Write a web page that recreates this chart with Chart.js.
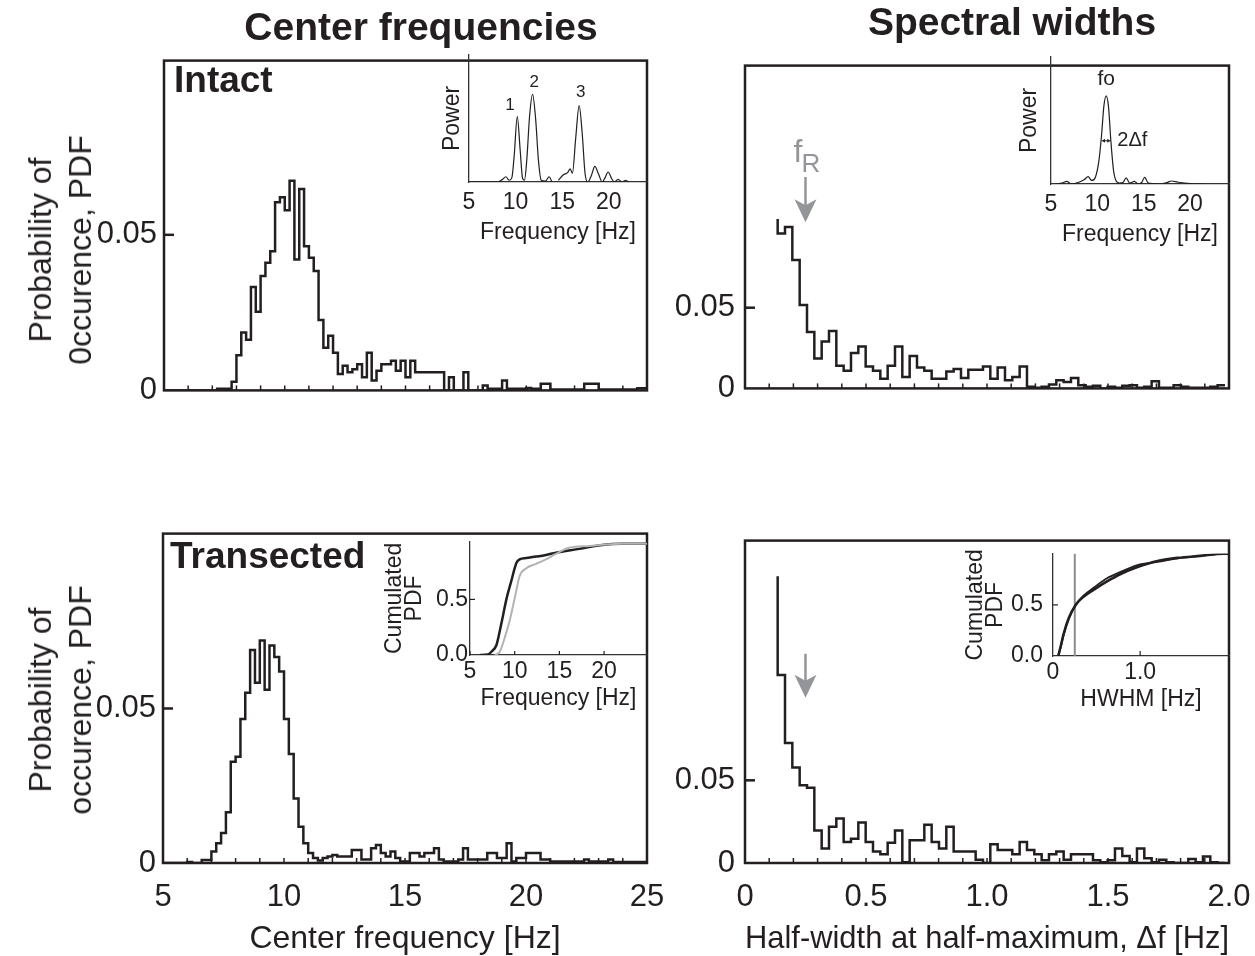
<!DOCTYPE html>
<html>
<head>
<meta charset="utf-8">
<script src="https://cdn.jsdelivr.net/npm/chart.js@4.4.1/dist/chart.umd.min.js"></script>
<style>
  body { margin: 0; background: #fff; }
  #page { position: relative; width: 1255px; height: 956px; overflow: hidden;
          font-family: 'Liberation Sans', Arial, sans-serif; color: #231f20; }
  canvas { position: absolute; }
  .lbl { position: absolute; white-space: nowrap; }
  .title { font-weight: bold; font-size: 39px; line-height: 44px; transform: translateX(-50%); }
  .panel { font-weight: bold; font-size: 37px; line-height: 40px; }
  .ytitle { font-size: 32px; line-height: 40px; text-align: center;
            transform: translate(-50%, -50%) rotate(-90deg); }
</style>
</head>
<body>
<div id="page">
  <canvas id="c1"></canvas>
  <canvas id="c2"></canvas>
  <canvas id="c3"></canvas>
  <canvas id="c4"></canvas>
  <canvas id="i1"></canvas>
  <canvas id="i2"></canvas>
  <canvas id="i3"></canvas>
  <canvas id="i4"></canvas>

  <div class="lbl title" style="left:421px;top:5px">Center frequencies</div>
  <div class="lbl title" style="left:1012px;top:0px">Spectral widths</div>
  <div class="lbl panel" style="left:174px;top:60px">Intact</div>
  <div class="lbl panel" style="left:170px;top:536px">Transected</div>
  <div class="lbl ytitle" style="left:60px;top:250px">Probability of<br>0ccurence, PDF</div>
  <div class="lbl ytitle" style="left:60px;top:700px">Probability of<br>occurence, PDF</div>
</div>

<script>
const BLACK = '#231f20';
const GREY = '#939598';
const FONT = "'Liberation Sans', Arial, sans-serif";

// ---- histograms of center frequencies (0.2 Hz bins from 5 Hz) ----
const centerBinStart = 5;
const centerBinWidth = 0.2;
const intactCenterPdf = [
  0, 0, 0, 0, 0, 0, 0, 0, 0, 0,
  0, 0.0005, 0.0005, 0.0005, 0.0028, 0.0113, 0.0186, 0.0163, 0.0332, 0.0253,
  0.0368, 0.0410, 0.0447, 0.0605, 0.0621, 0.0579, 0.0674, 0.0421, 0.0647, 0.0463,
  0.0426, 0.0384, 0.0226, 0.0137, 0.0176, 0.0121, 0.0053, 0.0079, 0.0058, 0.0068,
  0.0084, 0.0042, 0.0121, 0.0032, 0.0063, 0.0084, 0.0084, 0.0095, 0.0063, 0.0095,
  0.0042, 0.0095, 0.0058, 0.0058, 0.0058, 0.0058, 0.0058, 0.0058, 0, 0.0042,
  0, 0, 0.0058, 0, 0, 0, 0.0016, 0.0005, 0.0005, 0.0005,
  0.0032, 0.0005, 0.0005, 0.0005, 0.0005, 0.0008, 0.0005, 0.0005, 0.0021, 0.0021,
  0.0003, 0.0003, 0.0003, 0.0003, 0.0003, 0.0003, 0.0003, 0.0021, 0.0021, 0.0021,
  0.0003, 0.0003, 0.0003, 0.0003, 0.0003, 0.0003, 0.0003, 0.0003, 0.0007, 0.0007
];
const transectedCenterPdf = [
  0, 0, 0, 0, 0, 0.0003, 0, 0, 0.001, 0.001,
  0.0037, 0.0064, 0.0097, 0.0164, 0.0328, 0.0344, 0.0466, 0.0551, 0.0689, 0.0583,
  0.0720, 0.0561, 0.0704, 0.0667, 0.0620, 0.0466, 0.0353, 0.0209, 0.0117, 0.0064,
  0.0032, 0.0016, 0.0008, 0.0016, 0.0021, 0.0026, 0.0021, 0.0021, 0.0021, 0.0042,
  0.0042, 0.0011, 0.0011, 0.0048, 0.0058, 0.0032, 0.0021, 0.0037, 0.0016, 0.0005,
  0.0005, 0.0032, 0.0032, 0.0021, 0.0032, 0.0032, 0.0048, 0.0011, 0.0005, 0.0005,
  0.0005, 0.0011, 0.0048, 0.0011, 0.0011, 0.0011, 0.0011, 0.0032, 0.0032, 0.0016,
  0.0016, 0.0064, 0.0005, 0.0016, 0.0016, 0.0032, 0.0032, 0.0032, 0.0011, 0.0011,
  0.0005, 0.0005, 0.0005, 0.0005, 0.0005, 0.0005, 0.0005, 0.0011, 0.0005, 0.0005,
  0.0005, 0.0005, 0.0011, 0.0003, 0.0003, 0.0003, 0.0003, 0.0003, 0.0003, 0.0003
];

// ---- histograms of spectral widths (HWHM) ----
const widthBinStart = 0.135;
const widthBinWidth = 0.0303;
const intactWidthFirst = 0.105;
const intactWidthPdf = [
  0.096, 0.100, 0.0796, 0.0516, 0.035, 0.0186, 0.029, 0.0356, 0.014, 0.011,
  0.022, 0.026, 0.0136, 0.011, 0.006, 0.014, 0.026, 0.007, 0.020, 0.013,
  0.011, 0.006, 0.006, 0.0104, 0.012, 0.0064, 0.0116, 0.0116, 0.0136, 0.006,
  0.013, 0.005, 0.007, 0.0136, 0.001, 0.0004, 0.001, 0.0024, 0.005, 0.004,
  0.0064, 0.002, 0.001, 0.0016, 0, 0.001, 0.0004, 0.0016, 0.002, 0.0004,
  0.001, 0.0044, 0.0004, 0.0004, 0.002, 0.001, 0.0004, 0.0004, 0.0004, 0.001,
  0.002
];
const transectedWidthFirst = 0.1735;
const transectedWidthPdf = [
  0.1137, 0.0726, 0.0578, 0.0471, 0.0455, 0.0196, 0.0088, 0.022, 0.0269, 0.0127,
  0.0147, 0.0245, 0.0127, 0.0069, 0.0053, 0.0122, 0.0196, 0.0004, 0.0137, 0.0137,
  0.0231, 0.0127, 0.0088, 0.022, 0.0069, 0.0069, 0.0069, 0.002, 0, 0.0114,
  0.0078, 0.0078, 0.0053, 0.0127, 0.0078, 0.0053, 0.0016, 0.0053, 0.0069, 0.002,
  0.0053, 0.0053, 0.0053, 0.0016, 0.0004, 0.0016, 0.0088, 0.0043, 0.0004, 0.0088,
  0.0029, 0.0004, 0.002, 0.0004, 0, 0, 0.0024, 0.0004, 0.0039, 0.0004,
  0
];
const fR = 0.25;

// ---- tick values ----
const freqTicks = [5, 10, 15, 20, 25];
const widthTicks = [0, 0.5, 1.0, 1.5, 2.0];
const widthTickLabels = ['0', '0.5', '1.0', '1.5', '2.0'];
const pdfTicks = [0, 0.05];
const pdfTickLabels = ['0', '0.05'];
const insetFreqTicks = [5, 10, 15, 20];
const cdfTicks = [0, 0.5];
const cdfTickLabels = ['0.0', '0.5'];
const hwhmTicks = [0, 1.0];
const hwhmTickLabels = ['0', '1.0'];

// ---- inset: example spectrum with three peaks ----
const spectrumFreq = [5.0, 6.5, 8.0, 8.6, 8.96, 9.3, 9.6, 9.85, 10.18, 10.5, 10.75, 10.95,
  11.2, 11.5, 11.82, 12.15, 12.45, 12.75, 13.2, 13.6, 13.9, 14.3, 14.6, 15.1, 15.6, 15.85,
  16.1, 16.45, 16.82, 17.15, 17.45, 17.75, 18.15, 18.5, 18.9, 19.3, 19.6, 19.93, 20.3,
  20.6, 21.0, 21.4, 21.8, 22.1];
const spectrumPower = [0, 0.005, 0, 0.03, 0.06, 0.02, 0.05, 0.3, 0.746, 0.35, 0.04, 0.02,
  0.25, 0.75, 1.0, 0.72, 0.25, 0.02, 0.01, 0.06, 0, null, 0.02, 0.08, 0.11, 0.15,
  0.1, 0.5, 0.871, 0.55, 0.1, 0, 0.08, 0.178, 0.09, 0, 0.05, 0.114, 0.04,
  0, 0.03, 0, 0.02, 0];
const peakNames = ['1', '2', '3'];
const peakNameFreq = [9.4, 12.0, 17.0];
const peakNamePower = [0.88, 1.14, 1.02];

// ---- inset: single peak spectrum ----
const singleFreq = [5.5, 6.2, 6.7, 7.2, 8.0, 8.6, 9.0, 9.4, 9.8, 10.15, 10.45, 10.7, 10.95,
  11.2, 11.45, 11.75, 12.05, 12.4, 12.8, 13.1, 13.5, 14.0, 14.4, 14.8, 15.1, 15.5, 16.0,
  16.8, 17.5, 18.0, 18.7, 19.5, 20.5, 21.4];
const singlePower = [0, 0.01, 0.03, 0, 0.02, 0.05, 0.083, 0.04, 0.08, 0.25, 0.55, 0.88, 1.0,
  0.88, 0.5, 0.15, 0.03, 0.01, 0.02, 0.07, 0.01, 0.03, 0, 0.02, 0.076, 0.01, 0.005,
  0, 0.015, 0.034, 0.02, 0.01, 0, 0];

// ---- inset: cumulated PDF of center frequency ----
const cdfFreqTransected = [6.1, 7.0, 7.4, 7.96, 8.5, 9.07, 9.6, 10.2, 10.55, 11.3, 12.4, 13.5,
  14.6, 15.7, 16.85, 18.3, 19.8, 22, 24.8];
const cdfTransected = [0, 0.005, 0.03, 0.09, 0.28, 0.5, 0.66, 0.83, 0.86, 0.872, 0.885, 0.9,
  0.92, 0.935, 0.95, 0.97, 0.99, 1.0, 1.0];
const cdfFreqIntact = [7.8, 8.33, 8.9, 9.44, 10.0, 10.55, 11.3, 12.4, 13.5, 14.6, 16.1, 18.3,
  20.6, 22, 24.8];
const cdfIntact = [0, 0.03, 0.16, 0.31, 0.51, 0.71, 0.78, 0.82, 0.86, 0.91, 0.965, 0.98,
  0.995, 1.0, 1.0];

// ---- inset: cumulated PDF of HWHM ----
const cdfHwhm = [0.06, 0.09, 0.12, 0.18, 0.26, 0.35, 0.47, 0.62, 0.77, 0.97, 1.2, 1.43, 1.69, 1.96, 2.02];
const cdfHwhmIntact = [0, 0.1, 0.21, 0.37, 0.5, 0.58, 0.65, 0.73, 0.80, 0.87, 0.93, 0.96, 0.98, 1.0, 1.0];
const cdfHwhmTransected = [0, 0.09, 0.2, 0.36, 0.5, 0.59, 0.67, 0.76, 0.82, 0.89, 0.92, 0.955, 0.98, 1.0, 1.0];

Chart.defaults.font.family = FONT;
Chart.defaults.color = BLACK;
Chart.defaults.animation = false;
Chart.defaults.events = [];
Chart.defaults.plugins.legend.display = false;
Chart.defaults.plugins.tooltip.enabled = false;

// histogram outline: vertical edge at the start, then one step per bin
function histPoints(start, width, first, values) {
  const pts = [{ x: start, y: first }];
  values.forEach((v, i) => pts.push({ x: start + (i + 1) * width, y: v }));
  return pts;
}
function xyPoints(xs, ys) {
  return xs.map((x, i) => ({ x: x, y: ys[i] }));
}

const decorConfig = {};
const decor = {
  id: 'decor',
  beforeDatasetsDraw(chart) {
    const o = decorConfig[chart.canvas.id];
    if (!o || !o.vline) return;
    const { ctx, chartArea: a } = chart;
    const px = chart.scales.x.getPixelForValue(o.vline.x);
    ctx.save();
    ctx.strokeStyle = o.vline.color;
    ctx.lineWidth = o.vline.width;
    ctx.beginPath(); ctx.moveTo(px, a.top); ctx.lineTo(px, a.bottom); ctx.stroke();
    ctx.restore();
  },
  afterDatasetsDraw(chart) {
    const o = decorConfig[chart.canvas.id];
    if (!o) return;
    const { ctx, chartArea: a } = chart;
    const xs = chart.scales.x, ys = chart.scales.y;
    ctx.save();
    ctx.strokeStyle = BLACK;
    ctx.fillStyle = BLACK;
    if (o.xTicks) {
      const t = o.xTicks;
      ctx.lineWidth = t.width;
      const n = Math.round((t.to - t.from) / t.step);
      for (let i = 0; i <= n; i++) {
        const px = xs.getPixelForValue(t.from + i * t.step);
        ctx.beginPath(); ctx.moveTo(px, a.bottom); ctx.lineTo(px, a.bottom - t.len); ctx.stroke();
      }
    }
    if (o.xTickValues) {
      ctx.lineWidth = o.xTickValues.width;
      o.xTickValues.values.forEach(v => {
        const px = xs.getPixelForValue(v);
        ctx.beginPath(); ctx.moveTo(px, a.bottom); ctx.lineTo(px, a.bottom - o.xTickValues.len); ctx.stroke();
      });
    }
    if (o.yTicks) {
      ctx.lineWidth = o.yTicks.width;
      o.yTicks.values.forEach(v => {
        const py = ys.getPixelForValue(v);
        ctx.beginPath(); ctx.moveTo(a.left, py); ctx.lineTo(a.left + o.yTicks.len, py); ctx.stroke();
      });
    }
    if (o.frame) {
      ctx.lineWidth = o.frame;
      ctx.strokeRect(a.left, a.top, a.right - a.left, a.bottom - a.top);
    }
    (o.arrows || []).forEach(ar => {
      const px = xs.getPixelForValue(ar.x);
      const y1 = ys.getPixelForValue(ar.from), y2 = ys.getPixelForValue(ar.to);
      ctx.strokeStyle = ar.color; ctx.fillStyle = ar.color; ctx.lineWidth = 2.5;
      ctx.beginPath(); ctx.moveTo(px, y1); ctx.lineTo(px, y2 - 16); ctx.stroke();
      ctx.beginPath();
      ctx.moveTo(px, y2); ctx.lineTo(px - 11, y2 - 23); ctx.lineTo(px, y2 - 17); ctx.lineTo(px + 11, y2 - 23);
      ctx.closePath(); ctx.fill();
    });
    if (o.span) {
      const x1 = xs.getPixelForValue(o.span.from), x2 = xs.getPixelForValue(o.span.to);
      const py = ys.getPixelForValue(o.span.y);
      ctx.strokeStyle = BLACK; ctx.fillStyle = BLACK; ctx.lineWidth = 1;
      ctx.beginPath(); ctx.moveTo(x1, py); ctx.lineTo(x2, py); ctx.stroke();
      ctx.beginPath(); ctx.moveTo(x1, py); ctx.lineTo(x1 + 3, py - 2); ctx.lineTo(x1 + 3, py + 2); ctx.closePath(); ctx.fill();
      ctx.beginPath(); ctx.moveTo(x2, py); ctx.lineTo(x2 - 3, py - 2); ctx.lineTo(x2 - 3, py + 2); ctx.closePath(); ctx.fill();
    }
    (o.texts || []).forEach(t => {
      ctx.font = (t.weight || 'normal') + ' ' + t.size + 'px ' + FONT;
      ctx.fillStyle = t.color || BLACK;
      ctx.textAlign = t.align || 'center';
      ctx.textBaseline = t.baseline || 'alphabetic';
      ctx.fillText(t.text, xs.getPixelForValue(t.x) + (t.dx || 0), ys.getPixelForValue(t.y) + (t.dy || 0));
    });
    ctx.restore();
  }
};

function makeChart(id, area, g, datasets, xScale, yScale, decorOpts) {
  const cv = document.getElementById(id);
  cv.width = area.r - area.l + g.yW + g.pl + g.pr;
  cv.height = area.b - area.t + g.xH + g.pt + g.pb;
  cv.style.left = (area.l - g.yW - g.pl) + 'px';
  cv.style.top = (area.t - g.pt) + 'px';
  xScale.afterFit = s => { s.height = g.xH; };
  yScale.afterFit = s => { s.width = g.yW; };
  decorConfig[id] = decorOpts;
  return new Chart(cv, {
    type: 'line',
    data: { datasets: datasets },
    options: {
      responsive: false,
      devicePixelRatio: 1,
      layout: { padding: { left: g.pl, right: g.pr, top: g.pt, bottom: g.pb } },
      scales: { x: xScale, y: yScale }
    },
    plugins: [decor]
  });
}

function histSet(points) {
  return { data: points, stepped: 'after', borderColor: BLACK, borderWidth: 2.5,
           pointRadius: 0, fill: false };
}
function curveSet(points, color, width) {
  return { data: points, borderColor: color, borderWidth: width, pointRadius: 0, fill: false,
           cubicInterpolationMode: 'monotone', spanGaps: false };
}
function fixedAxis(min, max, values, labels, tickOpts, extra) {
  return Object.assign({
    type: 'linear', min: min, max: max,
    grid: { display: false, drawTicks: false },
    border: { display: false },
    afterBuildTicks: s => { s.ticks = values.map(v => ({ value: v })); },
    ticks: Object.assign({ autoSkip: false, maxRotation: 0,
                           callback: v => labels[values.indexOf(v)] }, tickOpts)
  }, extra || {});
}

const mainTickFont = { size: 31 };
const mainTitleFont = { size: 32 };
const insetFont = { size: 23 };
const insetBorder = { display: true, color: '#333', width: 1.3 };

// ---- top left: intact center frequencies ----
makeChart('c1', { l: 164, t: 55, r: 647, b: 392 }, { yW: 80, xH: 0, pl: 0, pr: 30, pt: 20, pb: 24 },
  [histSet(histPoints(centerBinStart, centerBinWidth, 0, intactCenterPdf))],
  fixedAxis(5, 25, freqTicks, freqTicks.map(String), { display: false }),
  fixedAxis(0, 0.106, pdfTicks, pdfTickLabels, { padding: 7, font: mainTickFont }),
  { frame: 2.5, xTicks: { from: 5, to: 25, step: 1, len: 5, width: 1.5 },
    yTicks: { values: [0.05], len: 10, width: 2.5 } });

// ---- top right: intact spectral widths ----
makeChart('c2', { l: 745, t: 57, r: 1229, b: 393 }, { yW: 80, xH: 0, pl: 0, pr: 20, pt: 20, pb: 24 },
  [histSet(histPoints(widthBinStart, widthBinWidth, intactWidthFirst, intactWidthPdf))],
  fixedAxis(0, 2.0, widthTicks, widthTickLabels, { display: false }),
  fixedAxis(0, 0.2, pdfTicks, pdfTickLabels, { padding: 10, font: mainTickFont }),
  { frame: 2.5, xTicks: { from: 0, to: 2, step: 0.1, len: 5, width: 1.5 },
    yTicks: { values: [0.05], len: 10, width: 2.5 },
    arrows: [{ x: fR, from: 0.131, to: 0.103, color: GREY }],
    texts: [
      { x: fR, y: 0.1405, text: 'f', size: 32, align: 'right', dx: -3, color: GREY },
      { x: fR, y: 0.1405, text: 'R', size: 26, align: 'left', dx: -4, dy: 10, color: GREY }
    ] });

// ---- bottom left: transected center frequencies ----
makeChart('c3', { l: 163, t: 528, r: 647, b: 863 }, { yW: 80, xH: 95, pl: 0, pr: 40, pt: 20, pb: 2 },
  [histSet(histPoints(centerBinStart, centerBinWidth, 0, transectedCenterPdf))],
  fixedAxis(5, 25, freqTicks, freqTicks.map(String), { padding: 16, font: mainTickFont },
    { title: { display: true, text: 'Center frequency [Hz]', font: mainTitleFont, padding: 0 } }),
  fixedAxis(0, 0.1066, pdfTicks, pdfTickLabels, { padding: 7, font: mainTickFont }),
  { frame: 2.5, xTicks: { from: 5, to: 25, step: 1, len: 5, width: 1.5 },
    yTicks: { values: [0.05], len: 10, width: 2.5 } });

// ---- bottom right: transected spectral widths ----
makeChart('c4', { l: 745, t: 532, r: 1229, b: 863 }, { yW: 80, xH: 95, pl: 0, pr: 45, pt: 20, pb: 2 },
  [histSet(histPoints(widthBinStart, widthBinWidth, transectedWidthFirst, transectedWidthPdf))],
  fixedAxis(0, 2.0, widthTicks, widthTickLabels, { padding: 16, font: mainTickFont },
    { title: { display: true, text: 'Half-width at half-maximum, \u0394f [Hz]', font: mainTitleFont, padding: 0 } }),
  fixedAxis(0, 0.195, pdfTicks, pdfTickLabels, { padding: 10, font: mainTickFont }),
  { frame: 2.5, xTicks: { from: 0, to: 2, step: 0.1, len: 5, width: 1.5 },
    yTicks: { values: [0.05], len: 10, width: 2.5 },
    arrows: [{ x: fR, from: 0.1265, to: 0.1, color: GREY }] });

// ---- inset: power spectrum with three peaks ----
makeChart('i1', { l: 469, t: 55, r: 647, b: 182 }, { yW: 30, xH: 64, pl: 0, pr: 2, pt: 2, pb: 2 },
  [curveSet(xyPoints(spectrumFreq, spectrumPower), BLACK, 1.2)],
  fixedAxis(5, 24.1, insetFreqTicks, insetFreqTicks.map(String), { padding: 7, font: insetFont },
    { border: insetBorder, title: { display: true, text: 'Frequency [Hz]', font: insetFont, padding: 0 } }),
  { type: 'linear', min: 0, max: 1.448, grid: { display: false, drawTicks: false }, border: insetBorder,
    ticks: { display: false },
    title: { display: true, text: 'Power', font: insetFont, padding: 0 } },
  { texts: peakNames.map((n, i) => ({ x: peakNameFreq[i], y: peakNamePower[i], text: n, size: 17, baseline: 'middle' })) });

// ---- inset: single peak spectrum ----
makeChart('i2', { l: 1051, t: 57, r: 1229, b: 184 }, { yW: 35, xH: 64, pl: 0, pr: 2, pt: 2, pb: 2 },
  [curveSet(xyPoints(singleFreq, singlePower), BLACK, 1.2)],
  fixedAxis(5, 24.2, insetFreqTicks, insetFreqTicks.map(String), { padding: 7, font: insetFont },
    { border: insetBorder, title: { display: true, text: 'Frequency [Hz]', font: insetFont, padding: 0 } }),
  { type: 'linear', min: 0, max: 1.44, grid: { display: false, drawTicks: false }, border: insetBorder,
    ticks: { display: false },
    title: { display: true, text: 'Power', font: insetFont, padding: 0 } },
  { span: { from: 10.5, to: 11.4, y: 0.49 },
    texts: [
      { x: 10.95, y: 1.125, text: 'fo', size: 21 },
      { x: 11.4, y: 0.49, text: '2\u0394f', size: 20, align: 'left', baseline: 'middle', dx: 7 }
    ] });

// ---- inset: cumulated PDF of center frequency ----
makeChart('i3', { l: 470, t: 528, r: 647, b: 655 }, { yW: 86, xH: 57, pl: 0, pr: 2, pt: 2, pb: 2 },
  [curveSet(xyPoints(cdfFreqIntact, cdfIntact), '#b3b3b3', 2),
   curveSet(xyPoints(cdfFreqTransected, cdfTransected), BLACK, 2.5)],
  fixedAxis(5, 24.8, insetFreqTicks, insetFreqTicks.map(String), { padding: 3, font: insetFont },
    { border: insetBorder, title: { display: true, text: 'Frequency [Hz]', font: insetFont, padding: 0 } }),
  fixedAxis(0, 1.018, cdfTicks, cdfTickLabels, { padding: 2, font: insetFont },
    { border: insetBorder,
      title: { display: true, text: ['Cumulated', 'PDF'], font: { size: 23, lineHeight: 0.9 }, padding: 0 } }),
  { yTicks: { values: [0.5], len: 5, width: 1.2 },
    xTickValues: { values: insetFreqTicks, len: 4, width: 1.2 } });

// ---- inset: cumulated PDF of HWHM ----
makeChart('i4', { l: 1053, t: 532, r: 1229, b: 656 }, { yW: 88, xH: 57, pl: 0, pr: 2, pt: 2, pb: 2 },
  [curveSet(xyPoints(cdfHwhm, cdfHwhmTransected), BLACK, 1.8),
   curveSet(xyPoints(cdfHwhm, cdfHwhmIntact), BLACK, 2.6)],
  fixedAxis(0, 2.02, hwhmTicks, hwhmTickLabels, { padding: 3, font: insetFont },
    { border: insetBorder, title: { display: true, text: 'HWHM [Hz]', font: insetFont, padding: 0 } }),
  fixedAxis(0, 1.0, cdfTicks, cdfTickLabels, { padding: 10, font: insetFont },
    { border: insetBorder,
      title: { display: true, text: ['Cumulated', 'PDF'], font: { size: 23, lineHeight: 0.9 }, padding: 0 } }),
  { vline: { x: fR, color: '#8c8c8c', width: 2 },
    yTicks: { values: [0.5], len: 5, width: 1.2 },
    xTickValues: { values: [1.0], len: 5, width: 1.2 } });
</script>
</body>
</html>
